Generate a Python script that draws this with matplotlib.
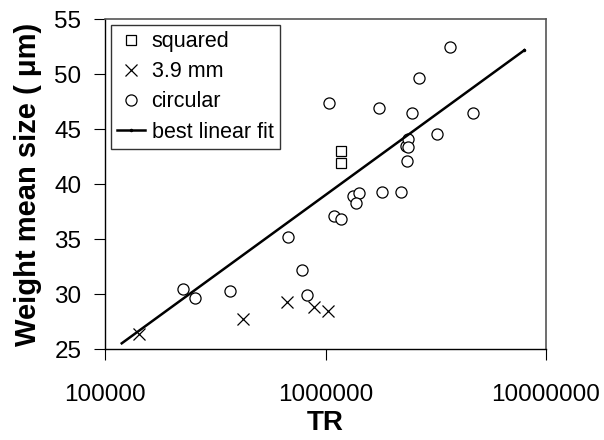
import numpy as np
import matplotlib.pyplot as plt

plt.rcParams['font.family'] = ['Liberation Sans', 'DejaVu Sans']

# squared orifice
sq_tr = [1175000, 1175000]
sq_size = [43.05, 41.96]

# 3.9 mm orifice
x39_tr = [142700, 424000, 671000, 889000, 1023000]
x39_size = [26.36, 27.8, 29.27, 28.85, 28.5]

# circular orifice
circ_tr = [225000, 255000, 369000, 676000, 782000, 822000, 1096000, 1170000,
           1040000, 1337000, 1415000, 1380000, 1740000, 1800000, 2190000,
           2310000, 2360000, 2360000, 2350000, 2460000, 2650000, 3210000,
           3680000, 4670000]
circ_size = [30.48, 29.7, 30.3, 35.2, 32.2, 29.9, 37.1, 36.85,
             47.36, 38.94, 39.24, 38.33, 46.96, 39.27, 39.27,
             43.5, 44.1, 43.4, 42.1, 46.45, 49.7, 44.57,
             52.48, 46.45]

# best linear fit (in log TR), end points
fit_tr = [119000, 7980000]
fit_size = [25.55, 52.2]

fig = plt.figure(figsize=(6.04, 4.40), dpi=100)
ax = fig.add_axes([0.174, 0.206, 0.730, 0.750])

ax.plot(sq_tr, sq_size, 's', ms=7.5, mfc='white', mec='black', mew=0.9,
        ls='none', label='squared')
ax.plot(x39_tr, x39_size, 'x', ms=8, color='black', mew=0.9,
        ls='none', label='3.9 mm')
ax.plot(circ_tr, circ_size, 'o', ms=8, mfc='white', mec='black', mew=0.9,
        ls='none', label='circular')
ax.plot(fit_tr, fit_size, '-', color='black', lw=1.8, marker='.', ms=3,
        markevery=[1], label='best linear fit')

ax.set_xscale('log')
ax.set_xlim(1e5, 1e7)
ax.set_ylim(25, 55)
ax.set_xticks([1e5, 1e6, 1e7])
ax.set_xticklabels(['100000', '1000000', '10000000'])
ax.xaxis.set_minor_locator(plt.NullLocator())
ax.set_yticks([25, 30, 35, 40, 45, 50, 55])
ax.tick_params(axis='both', which='major', labelsize=17.5, direction='out',
               length=8, width=0.8)
ax.tick_params(axis='x', pad=17)
ax.tick_params(axis='y', pad=9)

for side in ['top', 'right']:
    ax.spines[side].set_color('#555555')
    ax.spines[side].set_linewidth(1.2)
for side in ['left', 'bottom']:
    ax.spines[side].set_linewidth(1.0)

ax.set_xlabel('TR', fontsize=20, fontweight='bold', labelpad=3)
ax.set_ylabel('Weight mean size ( μm)', fontsize=21, fontweight='bold',
              labelpad=9)

leg = ax.legend(loc='upper left', fontsize=15.5, frameon=True, fancybox=False,
                edgecolor='black', borderpad=0.3, labelspacing=0.42,
                handlelength=1.3, handletextpad=0.3, borderaxespad=0.26)
leg.get_frame().set_linewidth(1.0)

fig.savefig('out.png', dpi=100)
